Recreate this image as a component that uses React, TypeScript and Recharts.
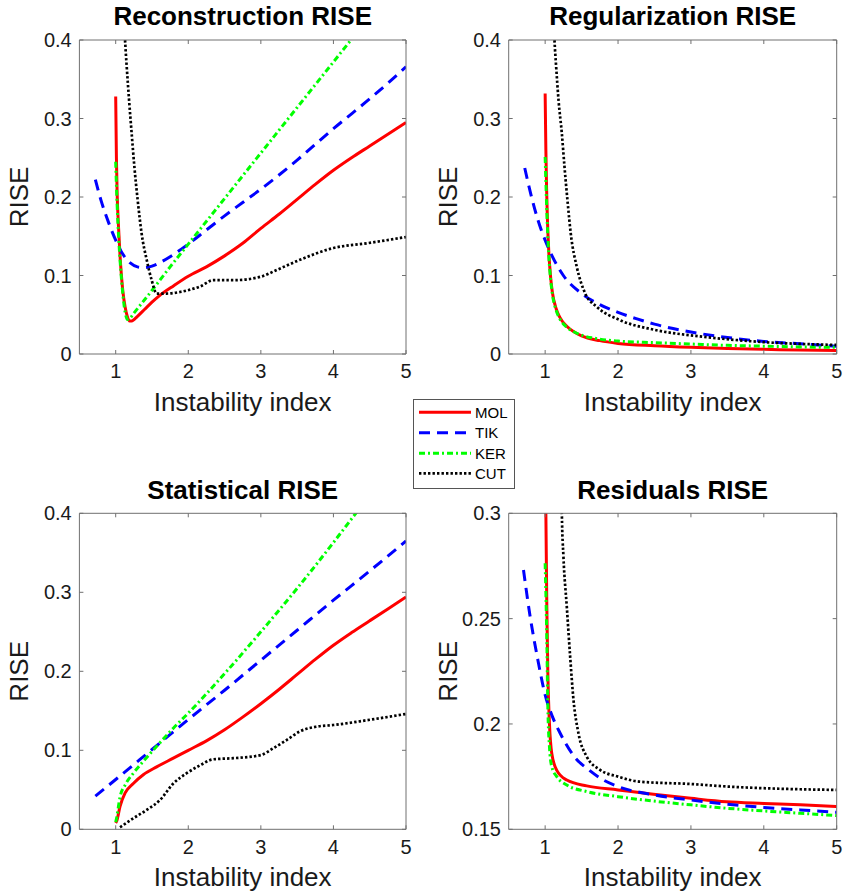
import React from 'react';
import { LineChart, Line, XAxis, YAxis } from 'recharts';

type Pt = { x: number; y: number };
const toPts = (arr: number[][]): Pt[] => arr.map(([x, y]) => ({ x, y }));

// ---------- labels / ticks ----------
const seriesNames = ['MOL', 'TIK', 'KER', 'CUT'];
const xTicks = [1, 2, 3, 4, 5];
const yTicksMain = [0, 0.1, 0.2, 0.3, 0.4];
const yTicksRes = [0.15, 0.2, 0.25, 0.3];
const panelTitles = ['Reconstruction RISE', 'Regularization RISE', 'Statistical RISE', 'Residuals RISE'];
const xLabel = 'Instability index';
const yLabel = 'RISE';

// ---------- Reconstruction RISE ----------
const reconMOL = [[1.0,0.328],[1.01,0.25],[1.02,0.205],[1.04,0.16],[1.06,0.125],[1.08,0.099],[1.1,0.079],[1.13,0.06],[1.16,0.048],[1.19,0.042],[1.22,0.042],[1.3,0.048],[1.4,0.057],[1.5,0.066],[1.6,0.074],[1.8,0.087],[2,0.099],[2.25,0.111],[2.5,0.125],[2.75,0.141],[3,0.16],[3.25,0.178],[3.5,0.197],[3.75,0.216],[4,0.234],[4.25,0.25],[4.5,0.265],[4.75,0.28],[5,0.295]];
const reconTIK = [[0.72,0.222],[0.8,0.195],[0.9,0.168],[1.0,0.145],[1.1,0.127],[1.2,0.116],[1.3,0.111],[1.4,0.11],[1.5,0.112],[1.6,0.116],[1.75,0.124],[2,0.14],[2.25,0.158],[2.5,0.176],[2.75,0.193],[3,0.21],[3.25,0.228],[3.5,0.247],[3.75,0.267],[4,0.287],[4.25,0.306],[4.5,0.325],[4.75,0.345],[5,0.366]];
const reconKER = [[1.0,0.245],[1.01,0.215],[1.02,0.19],[1.04,0.15],[1.06,0.12],[1.08,0.095],[1.1,0.075],[1.12,0.059],[1.14,0.049],[1.16,0.044],[1.19,0.045],[1.25,0.052],[1.5,0.081],[1.75,0.111],[2,0.14],[2.5,0.198],[3,0.256],[3.5,0.314],[4,0.372],[4.5,0.43],[5,0.488]];
const reconCUT = [[1.11,0.44],[1.129,0.4],[1.152,0.366],[1.184,0.324],[1.22,0.281],[1.257,0.239],[1.303,0.196],[1.358,0.153],[1.427,0.12],[1.496,0.094],[1.565,0.077],[1.7,0.077],[1.886,0.079],[2.006,0.0815],[2.162,0.086],[2.345,0.094],[2.62,0.094],[3.0,0.0985],[3.218,0.107],[3.539,0.12],[4.0,0.135],[4.457,0.141],[5,0.149]];

// ---------- Regularization RISE ----------
const regMOL = [[1.0,0.332],[1.01,0.26],[1.02,0.21],[1.03,0.175],[1.05,0.13],[1.075,0.098],[1.1,0.078],[1.15,0.058],[1.2,0.047],[1.3,0.035],[1.4,0.028],[1.5,0.023],[1.75,0.017],[2,0.0135],[2.5,0.0105],[3,0.0085],[3.5,0.007],[4,0.006],[4.5,0.005],[5,0.0045]];
const regTIK = [[0.72,0.237],[0.8,0.205],[0.9,0.171],[1.0,0.145],[1.1,0.124],[1.25,0.1],[1.5,0.077],[1.75,0.063],[2,0.053],[2.25,0.045],[2.5,0.038],[3,0.028],[3.5,0.021],[4,0.016],[4.5,0.013],[5,0.01]];
const regKER = [[1.0,0.251],[1.01,0.22],[1.02,0.19],[1.03,0.165],[1.05,0.125],[1.075,0.095],[1.1,0.076],[1.15,0.056],[1.2,0.045],[1.3,0.034],[1.4,0.028],[1.5,0.024],[1.75,0.019],[2,0.0165],[2.5,0.0145],[3,0.0127],[3.5,0.011],[4,0.01],[4.5,0.009],[5,0.0085]];
const regCUT = [[1.11,0.44],[1.128,0.4],[1.151,0.366],[1.183,0.324],[1.229,0.281],[1.265,0.239],[1.306,0.196],[1.352,0.153],[1.434,0.111],[1.55,0.077],[1.71,0.06],[2.03,0.043],[2.49,0.031],[3.17,0.022],[3.86,0.016],[5,0.0115]];

// ---------- Statistical RISE ----------
const statMOL = [[1.0,0.008],[1.014,0.0105],[1.06,0.029],[1.13,0.046],[1.243,0.058],[1.38,0.069],[1.565,0.079],[1.794,0.09],[2,0.1],[2.25,0.112],[2.5,0.126],[2.75,0.142],[3,0.159],[3.25,0.177],[3.5,0.196],[3.75,0.215],[4,0.233],[4.25,0.249],[4.5,0.264],[4.75,0.279],[5,0.294]];
const statTIK = [[0.72,0.042],[1,0.063],[1.5,0.101],[2,0.139],[2.5,0.176],[3,0.214],[3.5,0.252],[4,0.29],[4.5,0.327],[5,0.365]];
const statKER = [[1.0,0.009],[1.014,0.015],[1.06,0.041],[1.13,0.056],[1.243,0.071],[1.38,0.086],[1.565,0.105],[1.794,0.128],[2,0.147],[2.5,0.197],[3,0.25],[3.5,0.305],[4,0.363],[4.25,0.393],[4.5,0.423],[5,0.483]];
const statCUT = [[1.06,0.0025],[1.243,0.0139],[1.427,0.0245],[1.61,0.037],[1.794,0.058],[1.978,0.071],[2.162,0.081],[2.345,0.0886],[2.62,0.09],[3.0,0.094],[3.17,0.1025],[3.355,0.113],[3.539,0.124],[3.77,0.13],[4.0,0.132],[4.457,0.138],[5,0.146]];

// ---------- Residuals RISE ----------
const resMOL = [[1.0,0.33],[1.01,0.3],[1.023,0.2557],[1.037,0.224],[1.059,0.2003],[1.091,0.186],[1.16,0.178],[1.297,0.1734],[1.571,0.1706],[2,0.1687],[2.486,0.1666],[3.0,0.1647],[3.49,0.1631],[4.0,0.1623],[4.5,0.1616],[5,0.1608]];
const resTIK = [[0.703,0.2731],[0.794,0.251],[0.9,0.2304],[1.0,0.2138],[1.1,0.2035],[1.206,0.1956],[1.4,0.1845],[1.6,0.1782],[1.8,0.1734],[2.0,0.1703],[2.5,0.1663],[3,0.1639],[3.5,0.1619],[4,0.1604],[4.5,0.1592],[5,0.1581]];
const resKER = [[1.0,0.2763],[1.023,0.2399],[1.037,0.2082],[1.059,0.1892],[1.091,0.1797],[1.16,0.175],[1.297,0.171],[1.571,0.1679],[2,0.1655],[2.486,0.1634],[3.0,0.1616],[3.49,0.16],[4.0,0.1587],[4.5,0.1576],[5,0.1565]];
const resCUT = [[1.22,0.32],[1.229,0.3],[1.251,0.2794],[1.297,0.2557],[1.343,0.232],[1.389,0.2114],[1.457,0.1956],[1.571,0.1845],[1.754,0.1782],[2,0.175],[2.3,0.1726],[3,0.1715],[3.5,0.1703],[4,0.1695],[4.5,0.169],[5,0.1687]];

// ---------- styles ----------
const seriesStyles = [
  { stroke: '#ff0000', width: 3, dash: undefined as string | undefined },
  { stroke: '#0000ff', width: 3, dash: '11 7' },
  { stroke: '#00ff00', width: 3, dash: '6 3 2 3' },
  { stroke: '#000000', width: 2.7, dash: '2.4 2.1' },
];

const FONT = '"Liberation Sans", Arial, Helvetica, sans-serif';
const AXIS_COLOR = '#707070';
const TEXT_COLOR = '#1a1a1a';

type PanelProps = {
  title: string;
  left: number;
  top: number;
  width: number;
  height: number;
  plotTop: number;
  plotRight: number;
  yAxisWidth: number;
  xAxisHeight: number;
  yDomain: [number, number];
  yTicks: number[];
  series: number[][][];
  titleOffset: number;
  xLabelOffset: number;
  yLabelOffset: number;
};

function Panel(p: PanelProps) {
  // 1px-thick mirror axes (top/right) draw the box and inner ticks
  const margin = { top: p.plotTop - 1, right: p.plotRight - 1, bottom: 0, left: 0 };
  return (
    <div style={{ position: 'absolute', left: p.left, top: p.top, width: p.width, height: p.height }}>
      <LineChart width={p.width} height={p.height} margin={margin} style={{ fontFamily: FONT }}>
        <XAxis
          dataKey="x"
          type="number"
          domain={[0.5, 5]}
          ticks={xTicks}
          interval={0}
          allowDataOverflow
          height={p.xAxisHeight}
          tickSize={-4}
          tickMargin={14}
          stroke={AXIS_COLOR}
          tick={{ fill: TEXT_COLOR, fontSize: 20, fontFamily: FONT }}
          label={{ value: xLabel, position: 'insideBottom', offset: p.xLabelOffset, fontSize: 26, fill: TEXT_COLOR, fontFamily: FONT }}
        />
        <XAxis
          xAxisId="top"
          orientation="top"
          dataKey="x"
          type="number"
          domain={[0.5, 5]}
          ticks={xTicks}
          interval={0}
          allowDataOverflow
          height={1}
          tickSize={-4}
          stroke={AXIS_COLOR}
          tickFormatter={() => ''}
          label={{ value: p.title, position: 'top', offset: p.titleOffset - 1, fontSize: 26, fontWeight: 'bold', fill: '#000', fontFamily: FONT }}
        />
        <YAxis
          type="number"
          domain={p.yDomain}
          ticks={p.yTicks}
          interval={0}
          allowDataOverflow
          width={p.yAxisWidth}
          tickSize={-4}
          tickMargin={11.7}
          stroke={AXIS_COLOR}
          tick={{ fill: TEXT_COLOR, fontSize: 20, fontFamily: FONT }}
          label={{ value: yLabel, angle: -90, position: 'insideLeft', offset: p.yLabelOffset, fontSize: 26, fill: TEXT_COLOR, fontFamily: FONT, style: { textAnchor: 'middle' } }}
        />
        <YAxis
          yAxisId="right"
          orientation="right"
          type="number"
          domain={p.yDomain}
          ticks={p.yTicks}
          interval={0}
          allowDataOverflow
          width={1}
          tickSize={-4}
          stroke={AXIS_COLOR}
          tickFormatter={() => ''}
        />
        {p.series.map((s, i) => (
          <Line
            key={seriesNames[i]}
            name={seriesNames[i]}
            data={toPts(s)}
            dataKey="y"
            type="monotone"
            stroke={seriesStyles[i].stroke}
            strokeWidth={seriesStyles[i].width}
            strokeDasharray={seriesStyles[i].dash}
            dot={false}
            activeDot={false}
            isAnimationActive={false}
          />
        ))}
        {/* the same last series bound to the mirror axes, invisible, so they get a scale */}
        <Line
          xAxisId="top"
          yAxisId="right"
          data={toPts(p.series[0])}
          dataKey="y"
          stroke="none"
          strokeWidth={0}
          dot={false}
          activeDot={false}
          legendType="none"
          isAnimationActive={false}
        />
      </LineChart>
    </div>
  );
}

function LegendBox() {
  const rowY = [13.3, 33.7, 54.3, 74.3];
  return (
    <svg
      width={103}
      height={91}
      style={{ position: 'absolute', left: 413, top: 399 }}
    >
      <rect x={0.5} y={0.5} width={101} height={89} fill="#fff" stroke="#555" strokeWidth={1} />
      {seriesNames.map((n, i) => (
        <g key={n}>
          <line
            x1={6}
            x2={58}
            y1={rowY[i]}
            y2={rowY[i]}
            stroke={seriesStyles[i].stroke}
            strokeWidth={seriesStyles[i].width}
            strokeDasharray={seriesStyles[i].dash}
          />
          <text x={62} y={rowY[i] + 5.3} fontSize={15} fontFamily={FONT} fill="#000">
            {n}
          </text>
        </g>
      ))}
    </svg>
  );
}

export default function App() {
  return (
    <div style={{ position: 'absolute', left: 0, top: 0, width: 844, height: 894, background: '#fff', fontFamily: FONT }}>
      <Panel
        title={panelTitles[0]}
        left={0} top={0} width={420} height={420}
        plotTop={40} plotRight={14}
        yAxisWidth={79.4} xAxisHeight={66}
        yDomain={[0, 0.4]} yTicks={yTicksMain}
        series={[reconMOL, reconTIK, reconKER, reconCUT]}
        titleOffset={15} xLabelOffset={9.3} yLabelOffset={18.5}
      />
      <Panel
        title={panelTitles[1]}
        left={420} top={0} width={424} height={420}
        plotTop={40} plotRight={7.3}
        yAxisWidth={88.7} xAxisHeight={66}
        yDomain={[0, 0.4]} yTicks={yTicksMain}
        series={[regMOL, regTIK, regKER, regCUT]}
        titleOffset={15} xLabelOffset={9.3} yLabelOffset={28}
      />
      <Panel
        title={panelTitles[2]}
        left={0} top={440} width={420} height={454}
        plotTop={73.3} plotRight={14}
        yAxisWidth={79.4} xAxisHeight={64.7}
        yDomain={[0, 0.4]} yTicks={yTicksMain}
        series={[statMOL, statTIK, statKER, statCUT]}
        titleOffset={14} xLabelOffset={8} yLabelOffset={18.5}
      />
      <Panel
        title={panelTitles[3]}
        left={420} top={440} width={424} height={454}
        plotTop={73.3} plotRight={7.3}
        yAxisWidth={88.7} xAxisHeight={64.7}
        yDomain={[0.15, 0.3]} yTicks={yTicksRes}
        series={[resMOL, resTIK, resKER, resCUT]}
        titleOffset={14} xLabelOffset={8} yLabelOffset={28}
      />
      <LegendBox />
    </div>
  );
}
